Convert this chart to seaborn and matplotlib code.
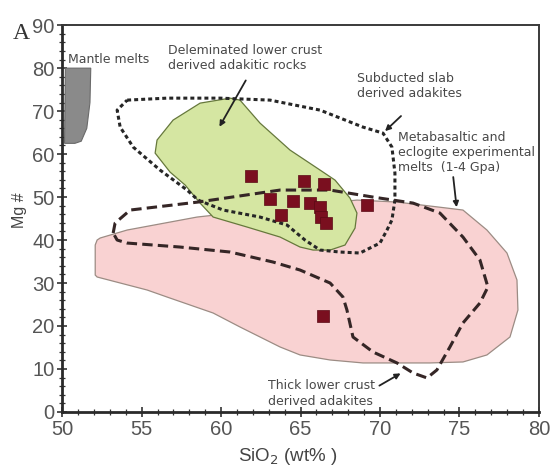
import numpy as np
import seaborn as sns
import matplotlib.pyplot as plt
from matplotlib.ticker import MultipleLocator

# sample points (SiO2 wt%, Mg#)
sio2 = [61.9, 65.2, 66.5, 63.1, 64.5, 65.6, 66.2, 63.8, 66.3, 66.6, 69.2, 66.4]
mg = [55.0, 53.8, 53.0, 49.6, 49.1, 48.7, 47.7, 45.8, 45.4, 44.0, 48.1, 22.3]

# field outlines
mantle_x = [50.2, 51.8, 51.75, 51.55, 51.2, 50.8, 50.15]
mantle_y = [80.0, 80.0, 72.0, 66.0, 63.0, 62.5, 62.5]

green_x = [60.57, 61.19, 62.45, 64.34, 66.23, 67.17, 68.11, 68.55, 68.43, 67.80,
           66.86, 65.79, 64.97, 63.71, 61.64, 59.50, 58.68, 57.74, 56.79, 55.85,
           55.97, 56.98, 58.68]
green_y = [73.02, 72.56, 67.21, 60.93, 56.28, 53.95, 49.77, 46.28, 42.79, 38.84,
           37.67, 37.67, 38.37, 40.70, 43.02, 45.35, 48.60, 52.79, 55.81, 60.23,
           63.26, 67.91, 71.86]

pink_x = [52.39, 54.09, 58.49, 62.45, 68.55, 71.07, 74.21, 75.22, 76.73, 77.99,
          78.62, 78.68, 78.18, 76.73, 75.22, 73.14, 68.93, 66.86, 64.97, 63.71,
          61.19, 59.50, 56.60, 55.35, 52.20, 52.08, 52.08, 52.20]
pink_y = [40.47, 42.33, 45.35, 46.98, 49.30, 48.84, 47.44, 46.98, 42.33, 36.98,
          30.70, 23.72, 17.44, 13.26, 11.63, 11.40, 11.40, 12.09, 13.26, 15.12,
          19.77, 23.02, 26.74, 28.37, 31.40, 31.86, 38.84, 40.00]

slab_x = [54.09, 56.60, 59.94, 63.08, 66.23, 68.93, 70.19, 70.75, 70.94, 70.94,
          70.75, 70.44, 70.00, 68.74, 67.48, 66.23, 65.28, 64.15, 62.45, 60.13,
          58.55, 57.86, 56.16, 54.47, 53.65, 53.46, 54.09]
slab_y = [72.56, 73.02, 73.02, 72.56, 70.23, 66.28, 64.88, 61.63, 55.58, 49.30,
          44.65, 42.33, 39.30, 36.98, 37.21, 37.67, 40.00, 43.49, 45.35, 46.98,
          49.30, 51.63, 56.28, 61.63, 66.28, 70.23, 72.56]

meta_x = [53.21, 53.33, 54.28, 58.55, 63.71, 66.86, 69.56, 72.08, 73.77, 75.22,
          76.29, 76.79, 76.29, 75.22, 74.40, 73.58, 72.96, 72.08, 71.07, 69.56,
          68.30, 67.92, 67.67, 66.86, 64.97, 63.27, 60.57, 57.42, 54.09, 53.46,
          53.21]
meta_y = [41.63, 43.95, 46.98, 48.84, 51.63, 51.63, 50.00, 48.60, 46.28, 40.70,
          35.35, 29.07, 25.35, 20.70, 15.12, 9.77, 7.91, 9.07, 11.40, 13.95,
          17.44, 23.72, 26.74, 30.00, 33.02, 34.88, 37.21, 38.37, 39.30, 40.00,
          41.63]

x_ticks = [50, 55, 60, 65, 70, 75, 80]
y_ticks = [0, 10, 20, 30, 40, 50, 60, 70, 80, 90]

sns.set_style("ticks")
plt.rcParams['font.family'] = ['Liberation Sans', 'DejaVu Sans']

fig = plt.figure(figsize=(5.55, 4.66), dpi=100)
ax = fig.add_axes([0.112, 0.116, 0.859, 0.830])

ax.fill(pink_x, pink_y, facecolor="#f9d2d2", edgecolor="#9c8c84", lw=0.9, zorder=1)
ax.fill(green_x, green_y, facecolor="#d5e6a2", edgecolor="#66783c", lw=0.9, zorder=2)
ax.fill(mantle_x, mantle_y, facecolor="#8a8a8a", edgecolor="#6a6a6a", lw=0.8, zorder=2)

ax.plot(slab_x, slab_y, color="#262626", lw=2.2, dashes=(1.3, 1.0), zorder=3)
ax.plot(meta_x, meta_y, color="#352626", lw=2.2, dashes=(3.4, 1.7), zorder=3)

sns.scatterplot(x=sio2, y=mg, ax=ax, marker="s", s=80, color="#7a0f1f",
                edgecolor="#5a0a14", linewidth=0.5, zorder=4)

txt = dict(fontsize=9, family="DejaVu Sans", color="#484848", va="center",
           ha="left", linespacing=1.22)
ax.text(50.38, 82.1, "Mantle melts", **txt)
ax.text(56.67, 82.3, "Deleminated lower crust\nderived adakitic rocks", **txt)
ax.text(68.55, 75.9, "Subducted slab\nderived adakites", **txt)
ax.text(71.13, 60.4, "Metabasaltic and\neclogite experimental\nmelts  (1-4 Gpa)", **txt)
ax.text(62.96, 4.3, "Thick lower crust\nderived adakites", **txt)

arrow = dict(arrowstyle="-|>", color="#222222", lw=1.3, mutation_scale=8)
ax.annotate("", xy=(59.81, 65.8), xytext=(61.64, 77.7), arrowprops=arrow)
ax.annotate("", xy=(70.19, 64.9), xytext=(71.45, 69.3), arrowprops=arrow)
ax.annotate("", xy=(74.84, 47.0), xytext=(74.59, 55.3), arrowprops=arrow)
ax.annotate("", xy=(71.45, 9.3), xytext=(69.81, 5.8), arrowprops=arrow)

ax.text(47.4, 88.1, "A", fontsize=17, family="Liberation Serif", color="#333333",
        ha="center", va="center", clip_on=False)

ax.set_xlim(50, 80)
ax.set_ylim(0, 90)
ax.set_xticks(x_ticks)
ax.set_yticks(y_ticks)
ax.xaxis.set_minor_locator(MultipleLocator(1))
ax.yaxis.set_minor_locator(MultipleLocator(2))
ax.tick_params(which="major", direction="inout", length=7, width=1.2,
               labelsize=14.5, labelcolor="#555555", color="#333333", pad=2)
ax.tick_params(which="minor", direction="inout", length=4, width=0.9, color="#333333")

for side in ["left", "bottom"]:
    ax.spines[side].set_linewidth(2.0)
    ax.spines[side].set_color("#2a2a2a")
for side in ["top", "right"]:
    ax.spines[side].set_linewidth(1.4)
    ax.spines[side].set_color("#3a3a3a")

ax.set_xlabel("SiO$_2$ (wt% )", fontsize=13.5, color="#444444")
ax.set_ylabel("Mg #", fontsize=11.5, color="#444444")
ax.xaxis.set_label_coords(0.473, -0.088)
ax.yaxis.set_label_coords(-0.074, 0.522)

plt.savefig("out.png", dpi=100)
